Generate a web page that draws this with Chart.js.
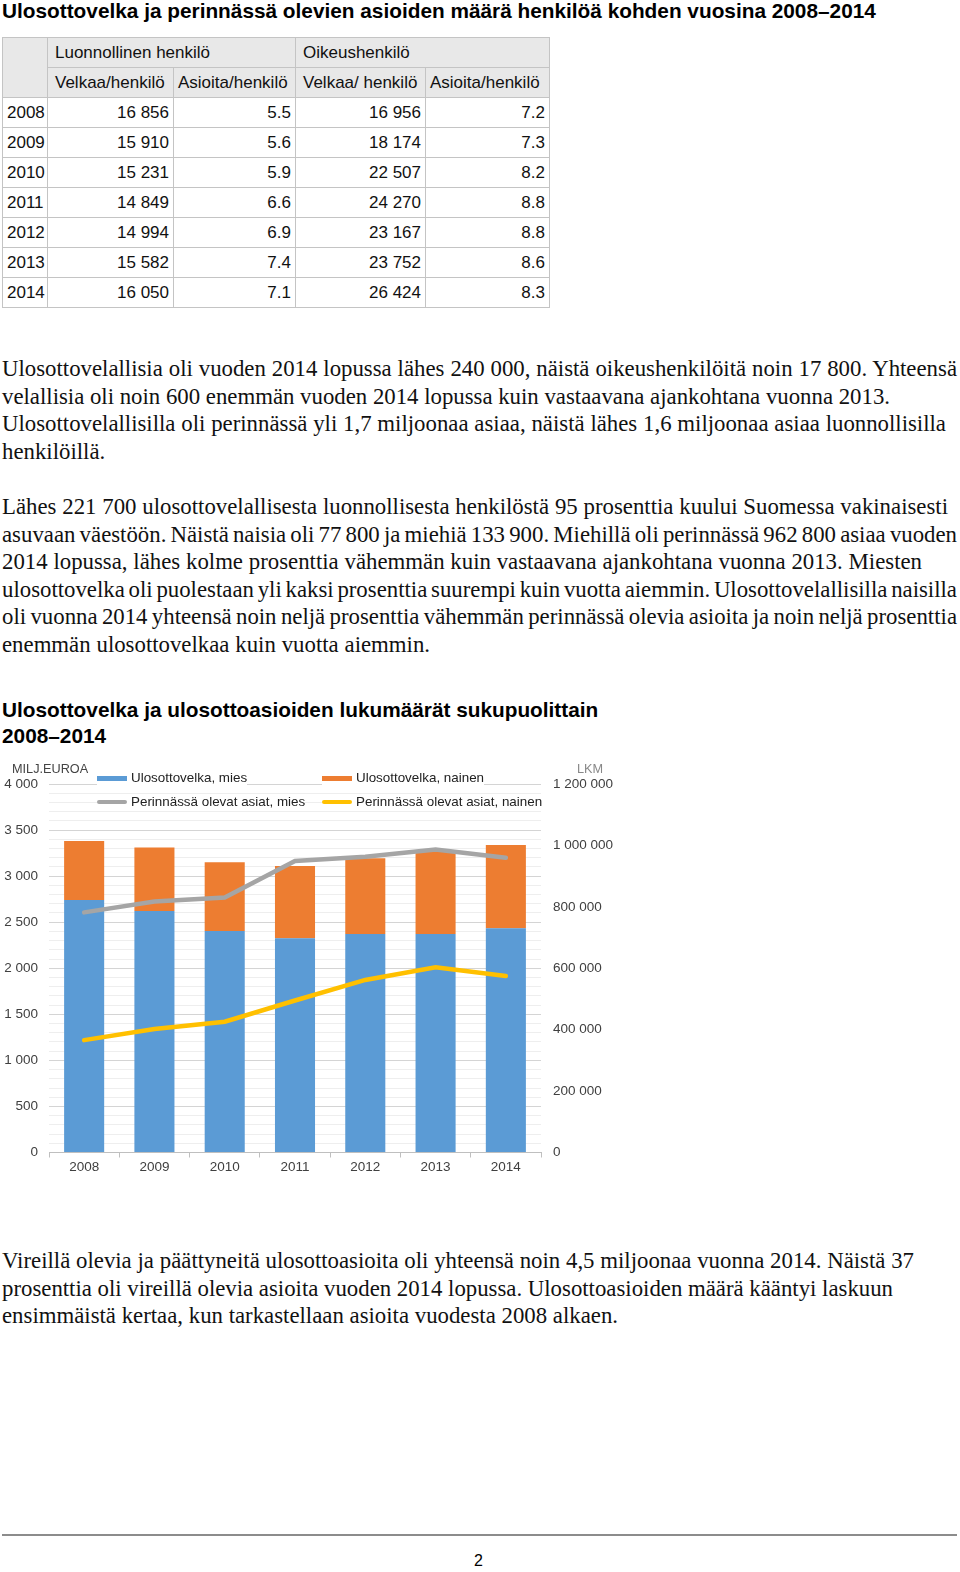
<!DOCTYPE html>
<html>
<head>
<meta charset="utf-8">
<script src="https://cdn.jsdelivr.net/npm/chart.js@4"></script>
<style>
  body { margin: 0; background: #fff; width: 960px; height: 1572px; position: relative; overflow: hidden; }
  .sans { font-family: "Liberation Sans", Arial, sans-serif; }
  .serif { font-family: "Liberation Serif", "Times New Roman", serif; }
  .h { position: absolute; left: 2px; font-weight: bold; font-size: 20.8px; color: #000; white-space: nowrap; }
  .p { position: absolute; left: 2px; font-size: 22.8px; line-height: 27.5px; color: #111; white-space: nowrap; }
  .p span { white-space: nowrap; }
  table { position: absolute; left: 2px; top: 37px; width: 547px; border-collapse: collapse; font-size: 17px; color: #111; table-layout: fixed; }
  tr { height: 30px; }
  td { border: 1px solid #c4c4c4; padding: 0 4px 0 4px; white-space: nowrap; overflow: hidden; }
  td.g { background: #e8e8e8; padding-left: 7px; }
  td.n { text-align: right; }
  #chartBox { position: absolute; left: 0; top: 755px; width: 620px; height: 430px; }
  .legend { position: absolute; font-size: 13.4px; color: #222; white-space: nowrap; }
  .legend span.m { display: inline-block; vertical-align: middle; width: 30px; margin-right: 4px; }
  .axt { position: absolute; font-size: 12.7px; }
</style>
</head>
<body class="sans">

<div class="h" style="top:0px;line-height:22px;">Ulosottovelka ja perinnässä olevien asioiden määrä henkilöä kohden vuosina 2008–2014</div>

<table id="tbl"></table>

<div class="p serif" style="top:355px;">
<span data-w="955">Ulosottovelallisia oli vuoden 2014 lopussa lähes 240 000, näistä oikeushenkilöitä noin 17 800. Yhteensä</span><br>
<span data-w="888">velallisia oli noin 600 enemmän vuoden 2014 lopussa kuin vastaavana ajankohtana vuonna 2013.</span><br>
<span data-w="944">Ulosottovelallisilla oli perinnässä yli 1,7 miljoonaa asiaa, näistä lähes 1,6 miljoonaa asiaa luonnollisilla</span><br>
<span>henkilöillä.</span></div>

<div class="p serif" style="top:493px;">
<span data-w="946">Lähes 221 700 ulosottovelallisesta luonnollisesta henkilöstä 95 prosenttia kuului Suomessa vakinaisesti</span><br>
<span data-w="955">asuvaan väestöön. Näistä naisia oli 77 800 ja miehiä 133 900. Miehillä oli perinnässä 962 800 asiaa vuoden</span><br>
<span data-w="920">2014 lopussa, lähes kolme prosenttia vähemmän kuin vastaavana ajankohtana vuonna 2013. Miesten</span><br>
<span data-w="955">ulosottovelka oli puolestaan yli kaksi prosenttia suurempi kuin vuotta aiemmin. Ulosottovelallisilla naisilla</span><br>
<span data-w="955">oli vuonna 2014 yhteensä noin neljä prosenttia vähemmän perinnässä olevia asioita ja noin neljä prosenttia</span><br>
<span data-w="428">enemmän ulosottovelkaa kuin vuotta aiemmin.</span></div>

<div class="h" style="top:697px;line-height:26px;">Ulosottovelka ja ulosottoasioiden lukumäärät sukupuolittain<br>2008–2014</div>

<div id="chartBox"><canvas id="chart"></canvas></div>

<div class="axt" style="left:12px;top:762px;color:#444;">MILJ.EUROA</div>
<div class="axt" style="left:577px;top:762px;color:#888;">LKM</div>

<div id="legend"></div>

<div class="p serif" style="top:1247px;">
<span data-w="912">Vireillä olevia ja päättyneitä ulosottoasioita oli yhteensä noin 4,5 miljoonaa vuonna 2014. Näistä 37</span><br>
<span data-w="891">prosenttia oli vireillä olevia asioita vuoden 2014 lopussa. Ulosottoasioiden määrä kääntyi laskuun</span><br>
<span data-w="616">ensimmäistä kertaa, kun tarkastellaan asioita vuodesta 2008 alkaen.</span></div>

<div style="position:absolute;left:2px;top:1534px;width:955px;height:2px;background:#8c8c8c;"></div>
<div style="position:absolute;left:474px;top:1552px;font-size:16px;">2</div>

<script>
// table data
const tableYears = ["2008", "2009", "2010", "2011", "2012", "2013", "2014"];
const velkaaLuonnollinen = ["16 856", "15 910", "15 231", "14 849", "14 994", "15 582", "16 050"];
const asioitaLuonnollinen = ["5.5", "5.6", "5.9", "6.6", "6.9", "7.4", "7.1"];
const velkaaOikeus = ["16 956", "18 174", "22 507", "24 270", "23 167", "23 752", "26 424"];
const asioitaOikeus = ["7.2", "7.3", "8.2", "8.8", "8.8", "8.6", "8.3"];

// chart data
const years = ["2008", "2009", "2010", "2011", "2012", "2013", "2014"];
const velkaMies = [2740, 2622, 2405, 2326, 2372, 2372, 2434];      // milj. euroa
const velkaNainen = [642, 688, 746, 785, 822, 894, 905];           // milj. euroa
const asiatMies = [782000, 817000, 830000, 949000, 963000, 987000, 960000];   // lkm
const asiatNainen = [366000, 402000, 426000, 495000, 562000, 603000, 575000]; // lkm

const colBlue = "#5B9BD5";
const colOrange = "#ED7D31";
const colGray = "#A5A5A5";
const colYellow = "#FFC000";

function buildTable() {
    const tbl = document.getElementById("tbl");
    const widths = [45, 126, 122, 130, 124];
    let html = "<colgroup>" + widths.map(w => `<col style="width:${w}px">`).join("") + "</colgroup>";
    html += '<tr><td class="g" rowspan="2"></td><td class="g" colspan="2">Luonnollinen henkilö</td><td class="g" colspan="2">Oikeushenkilö</td></tr>';
    html += '<tr><td class="g">Velkaa/henkilö</td><td class="g" style="padding-left:4px">Asioita/henkilö</td><td class="g">Velkaa/ henkilö</td><td class="g" style="padding-left:4px">Asioita/henkilö</td></tr>';
    for (let i = 0; i < tableYears.length; i++) {
        html += `<tr><td>${tableYears[i]}</td><td class="n">${velkaaLuonnollinen[i]}</td><td class="n">${asioitaLuonnollinen[i]}</td><td class="n">${velkaaOikeus[i]}</td><td class="n">${asioitaOikeus[i]}</td></tr>`;
    }
    tbl.innerHTML = html;
}

// stretch / squeeze word gaps so each text line ends where it does in the picture
function fitLines() {
    document.querySelectorAll(".p span[data-w]").forEach(sp => {
        const target = parseFloat(sp.dataset.w);
        const natural = sp.getBoundingClientRect().width;
        const gaps = (sp.textContent.match(/ /g) || []).length;
        if (gaps > 0) sp.style.wordSpacing = ((target - natural) / gaps) + "px";
    });
}

function buildLegend() {
    const items = [
        { text: "Ulosottovelka, mies", color: colBlue, left: 97, top: 770, bar: true },
        { text: "Ulosottovelka, nainen", color: colOrange, left: 322, top: 770, bar: true },
        { text: "Perinnässä olevat asiat, mies", color: colGray, left: 97, top: 794, bar: false },
        { text: "Perinnässä olevat asiat, nainen", color: colYellow, left: 322, top: 794, bar: false }
    ];
    const box = document.getElementById("legend");
    box.innerHTML = items.map(it => {
        const mark = it.bar
            ? `<span class="m" style="height:5px;background:${it.color};"></span>`
            : `<span class="m" style="height:4px;border-radius:2px;background:${it.color};"></span>`;
        return `<div class="legend" style="left:${it.left}px;top:${it.top}px;background:#fff;">${mark}${it.text}</div>`;
    }).join("");
}

function fmt(v) {
    return String(v).replace(/\B(?=(\d{3})+(?!\d))/g, " ");
}

function setupChart() {
    const ctx = document.getElementById("chart").getContext("2d");
    const tickFont = { family: "Liberation Sans", size: 13.5 };

    new Chart(ctx, {
        type: "bar",
        data: {
            labels: years,
            datasets: [
                {
                    type: "line",
                    label: "Perinnässä olevat asiat, mies",
                    data: asiatMies,
                    yAxisID: "y1",
                    borderColor: colGray,
                    borderWidth: 4.5,
                    pointRadius: 0,
                    tension: 0,
                    borderCapStyle: "round",
                    order: 0
                },
                {
                    type: "line",
                    label: "Perinnässä olevat asiat, nainen",
                    data: asiatNainen,
                    yAxisID: "y1",
                    borderColor: colYellow,
                    borderWidth: 4.5,
                    pointRadius: 0,
                    tension: 0,
                    borderCapStyle: "round",
                    order: 0
                },
                {
                    label: "Ulosottovelka, mies",
                    data: velkaMies,
                    yAxisID: "y",
                    backgroundColor: colBlue,
                    categoryPercentage: 1,
                    barPercentage: 0.57,
                    order: 1
                },
                {
                    label: "Ulosottovelka, nainen",
                    data: velkaNainen,
                    yAxisID: "y",
                    backgroundColor: colOrange,
                    categoryPercentage: 1,
                    barPercentage: 0.57,
                    order: 1
                }
            ]
        },
        options: {
            responsive: false,
            animation: false,
            layout: { padding: { top: 29 } },
            plugins: { legend: { display: false }, tooltip: { enabled: false } },
            scales: {
                x: {
                    stacked: true,
                    grid: { offset: true, drawOnChartArea: false, tickLength: 5, color: "#bfbfbf" },
                    border: { color: "#bfbfbf" },
                    ticks: { font: tickFont, color: "#404040", padding: 2 },
                    afterFit: s => { s.height = 32.5; }
                },
                y: {
                    stacked: true,
                    min: 0,
                    max: 4000,
                    position: "left",
                    border: { display: false },
                    grid: {
                        drawTicks: false,
                        color: c => (c.tick && c.tick.value % 500 === 0) ? "#d4d4d4" : "#eeeeee"
                    },
                    ticks: {
                        stepSize: 100,
                        maxTicksLimit: 100,
                        autoSkip: false,
                        padding: 11,
                        font: tickFont,
                        color: "#404040",
                        callback: v => (v % 500 === 0 ? fmt(v) : "")
                    },
                    afterFit: s => { s.width = 49; }
                },
                y1: {
                    min: 0,
                    max: 1200000,
                    position: "right",
                    border: { display: false },
                    grid: { drawOnChartArea: false, drawTicks: false },
                    ticks: {
                        stepSize: 200000,
                        padding: 12,
                        font: tickFont,
                        color: "#404040",
                        callback: v => fmt(v)
                    },
                    afterFit: s => { s.width = 79; }
                }
            }
        }
    });
}

const cv = document.getElementById("chart");
cv.width = 620;
cv.height = 430;
cv.style.width = "620px";
cv.style.height = "430px";

buildTable();
fitLines();
buildLegend();
setupChart();
</script>
</body>
</html>
